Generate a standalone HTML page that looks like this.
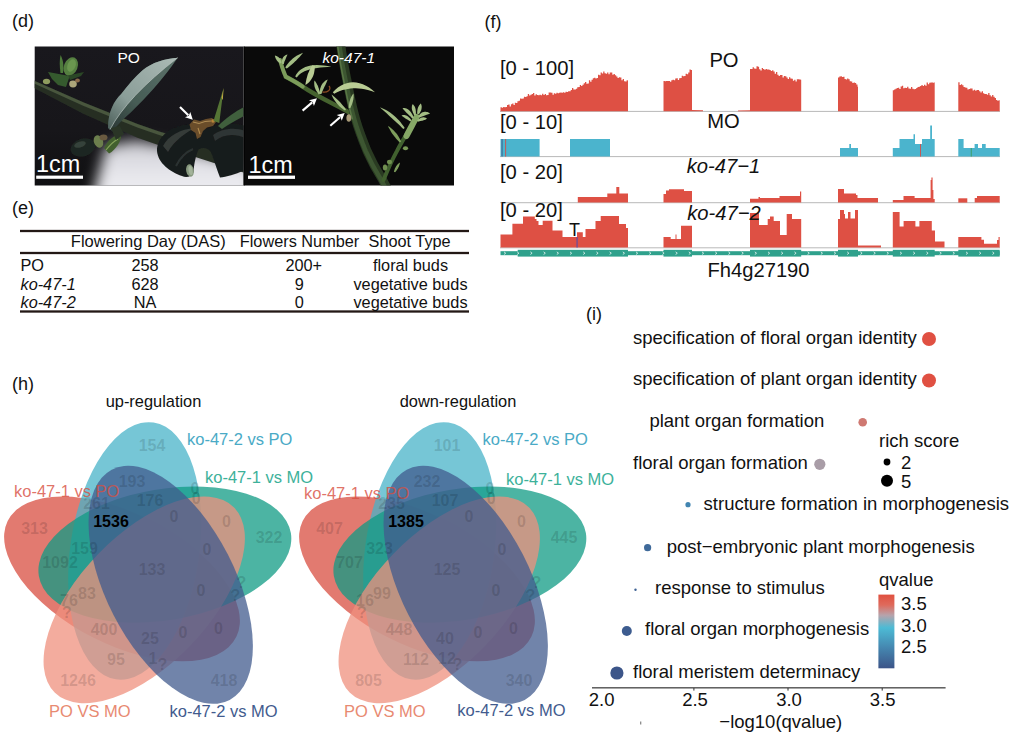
<!DOCTYPE html>
<html><head><meta charset="utf-8"><title>figure</title>
<style>
html,body{margin:0;padding:0;background:#fff;}
body{width:1024px;height:756px;overflow:hidden;}
svg{display:block;}
text{font-family:"Liberation Sans",sans-serif;}
</style></head><body>
<svg width="1024" height="756" viewBox="0 0 1024 756">
<defs>
<filter id="b1" x="-10%" y="-10%" width="120%" height="120%"><feGaussianBlur stdDeviation="0.7"/></filter>
<filter id="b2" x="-10%" y="-10%" width="120%" height="120%"><feGaussianBlur stdDeviation="1.5"/></filter>
<radialGradient id="glow" cx="150" cy="205" r="95" gradientUnits="userSpaceOnUse">
<stop offset="0" stop-color="#f4f4f8"/><stop offset="0.35" stop-color="#e6e6ec"/><stop offset="0.6" stop-color="#a9a9b0"/><stop offset="0.8" stop-color="#55555c"/><stop offset="1" stop-color="#1c1b21"/>
</radialGradient>
<linearGradient id="qv" x1="0" y1="0" x2="0" y2="1">
<stop offset="0" stop-color="#E0503F"/><stop offset="0.14" stop-color="#df6a5c"/><stop offset="0.28" stop-color="#b7a3ab"/><stop offset="0.45" stop-color="#4DBBD5"/><stop offset="0.72" stop-color="#4587b0"/><stop offset="1" stop-color="#3C5488"/>
</linearGradient>
<filter id="b5" x="-30%" y="-50%" width="160%" height="200%"><feGaussianBlur stdDeviation="7"/></filter>
<linearGradient id="bgL" x1="0" y1="46" x2="0" y2="186" gradientUnits="userSpaceOnUse"><stop offset="0" stop-color="#19181d"/><stop offset="0.6" stop-color="#17161a"/><stop offset="1" stop-color="#101012"/></linearGradient>
<linearGradient id="glowL" x1="0" y1="136" x2="0" y2="186" gradientUnits="userSpaceOnUse"><stop offset="0" stop-color="#b8b8be"/><stop offset="0.45" stop-color="#dcdce2"/><stop offset="1" stop-color="#ececf0"/></linearGradient>
<linearGradient id="leafG" x1="110" y1="128" x2="172" y2="60" gradientUnits="userSpaceOnUse"><stop offset="0" stop-color="#4f625d"/><stop offset="0.35" stop-color="#8a9d98"/><stop offset="1" stop-color="#a9b8b3"/></linearGradient>
<linearGradient id="leafD" x1="112" y1="130" x2="172" y2="62" gradientUnits="userSpaceOnUse"><stop offset="0" stop-color="#2c3a36"/><stop offset="0.4" stop-color="#465c55"/><stop offset="1" stop-color="#5a7068"/></linearGradient>
<clipPath id="cpL"><rect x="34.7" y="46.6" width="208.8" height="139"/></clipPath>
<clipPath id="cpR"><rect x="243.5" y="46.6" width="210.5" height="139"/></clipPath>
</defs>
<rect width="1024" height="756" fill="#fff"/>

<text x="12" y="26.6" font-size="18" fill="#111" text-anchor="start">(d)</text>
<text x="12" y="213.7" font-size="18" fill="#111" text-anchor="start">(e)</text>
<text x="484.5" y="28" font-size="18" fill="#111" text-anchor="start">(f)</text>
<text x="12" y="390.2" font-size="18" fill="#111" text-anchor="start">(h)</text>
<text x="586" y="320" font-size="18" fill="#111" text-anchor="start">(i)</text>
<g id="photoL" clip-path="url(#cpL)">
<rect x="34" y="46" width="210" height="140" fill="url(#bgL)"/>
<g filter="url(#b5)"><path d="M92,200 L106,146 L135,140 L170,146 L255,166 L255,200 Z" fill="url(#glowL)"/></g>
<g filter="url(#b1)">
<path d="M33,80 L83.7,102.3 L137.4,123.8 L159,131.3 L245,155 L245,173 L159,145.3 L137.4,137.8 L83.7,114.1 L33,87.5 Z" fill="#262e24"/>
<path d="M33,80.3 L83.7,102.6 L137.4,124.1 L159,131.6 L170,134.7 L170,138.5 L159,135 L137.4,127.5 L83.7,106 L33,83 Z" fill="#48563e"/>
<path d="M108,128 C108,112 114,101 121.2,94 C128,85 135,77 142.6,70.2 C152,62.5 165,58.5 177.7,57.7 C170,69 160,82 149.4,93.2 C141,102.5 133,110.5 124.4,118.2 C120,122 116,127 112.5,131.5 Z" fill="url(#leafD)"/>
<path d="M108,128 C108,112 114,101 121.2,94 C128,85 135,77 142.6,70.2 C152,62.5 165,58.5 177.7,57.7 Q127,97 110,129.5 Z" fill="url(#leafG)"/>
<path d="M110,129.5 Q127,97 177.7,57.7" stroke="#b4c0bb" stroke-width="0.7" fill="none"/>
<ellipse cx="70.8" cy="66.5" rx="6.8" ry="9.6" transform="rotate(22 70.8 66.5)" fill="#557f40"/>
<ellipse cx="71.5" cy="65.5" rx="4" ry="6.5" transform="rotate(22 71.5 65.5)" fill="#6a9650"/>
<path d="M60.5,55 C63.5,60 64,68 63,73 L60.5,73 C59.5,66 59.5,60 60.5,55 Z" fill="#4d7a3a"/>
<path d="M48,72 L69.7,76 L66,87 L58,85 L52,79 Z" fill="#365a2e"/>
<path d="M68,75.5 L84,72 L81,76 L70,80 Z" fill="#2c4726"/>
<ellipse cx="46.5" cy="81.5" rx="3.6" ry="2.8" fill="#8f9c5e"/>
<ellipse cx="73" cy="84" rx="3.8" ry="3.4" fill="#aba57a"/>
<ellipse cx="77.5" cy="80.5" rx="2.4" ry="2" fill="#8a6a4a"/>
<ellipse cx="83" cy="147.5" rx="12.6" ry="8.8" transform="rotate(-17 83 147.5)" fill="#1f2620"/>
<ellipse cx="80" cy="144.5" rx="6" ry="3" transform="rotate(-17 80 144.5)" fill="#36423a"/>
<ellipse cx="98.5" cy="141.5" rx="4.6" ry="6.4" transform="rotate(-20 98.5 141.5)" fill="#6c7f4e"/>
<path d="M104,148 C108,140 114,135 121,134 C122,140 116,150 109,153.5 Z" fill="#43602f"/>
<path d="M106,150 C110,145 114,141 118,139" stroke="#86a35a" stroke-width="1.2" fill="none"/>
<ellipse cx="103.5" cy="137.5" rx="4" ry="3" fill="#6a5a40"/>
<path d="M111,128 L120,126 L124,134 L116,140 Z" fill="#2a3626"/>
<path d="M157,151 C157,138 168,128 184,125 C194,123.5 204,125 208,129 C216,124 232,122 246,126 L246,170 L243,171 C236,174 226,177 220,177.5 C217,170 214,160 211,152 C208,148 203,147 199,149 C196,154 194,164 193.5,172 C192,177 186,178 182,176 C170,172 158,163 157,151 Z" fill="#181c1b"/>
<path d="M163,146 C168,136 180,129 195,128 C185,133 174,141 168,152 Z" fill="#343a39"/>
<path d="M213,135 C222,128 236,127 245,131 L245,138 C235,133 223,134 215,141 Z" fill="#2f3434"/>
<path d="M176,166 C180,158 186,152 193,149" stroke="#2c3231" stroke-width="2" fill="none"/>
<ellipse cx="190" cy="170.5" rx="3.8" ry="6.3" transform="rotate(-10 190 170.5)" fill="#86987e"/>
<ellipse cx="190.6" cy="170.5" rx="2" ry="4.6" transform="rotate(-10 190.6 170.5)" fill="#a3b39a"/>
<path d="M189.5,124.5 L194,119.5 L200,121 L206,119 L212,118 L216,122 L213,126 L207,127.5 L203,131 L200.5,137 L197,139 L195.5,133 L191,130 Z" fill="#6a4e2c"/>
<path d="M193,122 L199,123.5 L205,121.5 L211,121" stroke="#b08d55" stroke-width="1" fill="none"/>
<path d="M198,128 L200,134" stroke="#b08a4c" stroke-width="1.1" fill="none"/>
<circle cx="213" cy="121" r="1.8" fill="#b88438"/>
<path d="M213.5,121 L223.6,88 L219.3,123 Z" fill="#557536"/>
<path d="M221.6,98 L223.6,88 L222.8,100 Z" fill="#c2aa40"/>
<path d="M218,126 C226,118 236,111 244,107 L244,116 C236,120 228,125 222,129 Z" fill="#3f5f3c"/>
</g>
</g>
<g id="photoR" clip-path="url(#cpR)">
<rect x="243.5" y="46" width="211" height="140" fill="#0a0a0a"/>
<rect x="243.3" y="46" width="1.3" height="140" fill="#000"/>
<g filter="url(#b1)">
<path d="M351,113.5 C338,106 318,97 302.7,86.6 C296,82 290,79 285.8,76.7" stroke="#45622f" stroke-width="4.4" fill="none" stroke-linecap="round"/>
<path d="M302.7,86.6 C296,82 290,79 285.8,76.7 C283,71 281.5,65 280,60" stroke="#7c9c5a" stroke-width="4" fill="none" stroke-linecap="round"/>
<path d="M281.7,62.5 L281.4,61.8 L281.1,61.1 L280.8,60.4 L280.5,59.8 L280.1,59.2 L279.7,58.6 L279.3,58.1 L278.8,57.6 L278.3,57.1 L277.7,56.7 L277.1,56.3 L276.4,56.0 L275.7,55.7 L274.9,55.5 L274.9,55.5 L275.0,56.3 L275.2,57.0 L275.4,57.7 L275.7,58.4 L276.0,59.0 L276.3,59.6 L276.7,60.2 L277.1,60.7 L277.5,61.2 L278.0,61.7 L278.6,62.2 L279.1,62.6 L279.7,63.1 L280.3,63.5 Z" fill="#a3bd84"/>
<path d="M283.8,64.0 L284.0,63.2 L284.2,62.5 L284.4,61.8 L284.7,61.1 L285.0,60.5 L285.2,59.9 L285.5,59.3 L285.7,58.7 L286.0,58.0 L286.2,57.4 L286.5,56.7 L286.8,56.1 L287.2,55.3 L287.5,54.5 L287.5,54.5 L286.6,54.7 L285.8,55.0 L285.1,55.5 L284.4,56.0 L283.8,56.6 L283.2,57.3 L282.8,58.0 L282.4,58.8 L282.2,59.6 L282.0,60.4 L282.0,61.3 L282.0,62.2 L282.1,63.1 L282.2,64.0 Z" fill="#a3bd84"/>
<path d="M286.7,68.6 L287.9,67.7 L289.1,66.7 L290.3,65.7 L291.5,64.7 L292.7,63.7 L293.8,62.7 L295.0,61.6 L296.2,60.5 L297.3,59.3 L298.5,58.1 L299.6,56.9 L300.8,55.6 L301.9,54.3 L303.0,52.8 L303.0,52.8 L301.3,53.4 L299.7,54.2 L298.1,55.0 L296.6,55.8 L295.2,56.8 L293.8,57.8 L292.5,58.8 L291.3,59.9 L290.1,61.0 L289.0,62.3 L288.0,63.5 L287.0,64.8 L286.1,66.1 L285.3,67.4 Z" fill="#a3bd84"/>
<path d="M296.8,77.4 L298.0,75.9 L299.4,74.5 L301.0,73.3 L302.7,72.3 L304.5,71.3 L306.6,70.4 L308.9,69.7 L311.4,69.0 L314.1,68.4 L317.1,67.9 L320.3,67.5 L323.8,67.2 L327.5,67.0 L331.5,66.8 L331.5,66.8 L327.6,66.0 L323.8,65.5 L320.2,65.2 L316.9,65.1 L313.7,65.2 L310.7,65.6 L307.9,66.2 L305.3,67.1 L303.0,68.2 L300.9,69.5 L299.0,71.0 L297.5,72.7 L296.2,74.6 L295.2,76.6 Z" fill="#a3bd84"/>
<path d="M312.2,65.2 L311.5,66.6 L310.8,67.9 L310.1,69.2 L309.4,70.6 L308.8,71.9 L308.2,73.2 L307.7,74.6 L307.3,76.0 L306.9,77.4 L306.5,78.8 L306.2,80.3 L305.9,81.8 L305.6,83.3 L305.5,85.0 L305.5,85.0 L306.9,84.1 L308.2,83.0 L309.3,81.9 L310.3,80.7 L311.2,79.4 L312.1,78.1 L312.8,76.7 L313.4,75.2 L313.9,73.7 L314.2,72.2 L314.5,70.6 L314.7,69.0 L314.8,67.4 L314.8,65.8 Z" fill="#b9cc94"/>
<path d="M320.3,93.6 L320.0,92.5 L319.7,91.5 L319.4,90.4 L319.1,89.4 L318.8,88.4 L318.4,87.5 L318.1,86.5 L317.7,85.6 L317.2,84.7 L316.8,83.9 L316.3,83.0 L315.8,82.2 L315.2,81.3 L314.5,80.5 L314.5,80.5 L314.3,81.5 L314.2,82.6 L314.2,83.6 L314.3,84.6 L314.4,85.7 L314.6,86.7 L314.9,87.7 L315.3,88.7 L315.7,89.7 L316.2,90.7 L316.8,91.6 L317.4,92.5 L318.1,93.5 L318.7,94.4 Z" fill="#a3bd84"/>
<path d="M321.3,94.1 L321.8,92.9 L322.2,91.8 L322.7,90.7 L323.2,89.6 L323.7,88.6 L324.1,87.6 L324.6,86.6 L325.0,85.7 L325.5,84.7 L325.9,83.7 L326.4,82.7 L326.8,81.7 L327.3,80.6 L327.8,79.5 L327.8,79.5 L326.7,80.0 L325.6,80.6 L324.7,81.3 L323.8,82.2 L322.9,83.1 L322.2,84.1 L321.6,85.1 L321.0,86.2 L320.6,87.4 L320.2,88.6 L320.0,89.9 L319.8,91.2 L319.7,92.5 L319.7,93.9 Z" fill="#a3bd84"/>
<path d="M322.5,92 C327,93 332,89.5 329,86" stroke="#8a4a20" stroke-width="1.3" fill="none"/>
<path d="M340.6,44 C343,62 346,76 348.8,89.6 C351,101 353,110 355.7,119.4 C359,131 363,141 367.1,151.1 C372,162 377,171 382,178.9 L388,190" stroke="#2a3b23" stroke-width="9" fill="none"/>
<path d="M339.2,44 C341.6,62 344.6,76 347.4,89.6 C349.6,101 351.6,110 354.3,119.4 C357.6,131 361.6,141 365.7,151.1 C370.6,162 375.6,171 380.6,178.9 L386.6,190" stroke="#3d5730" stroke-width="4.5" fill="none"/>
<path d="M337.4,44 C339.8,62 342.8,76 345.6,89.6 C347.8,101 349.8,110 352.5,119.4" stroke="#587544" stroke-width="1.6" fill="none"/>
<path d="M334.2,93.8 L337.0,92.3 L339.9,91.0 L342.6,90.1 L345.3,89.4 L347.9,88.9 L350.5,88.5 L353.2,88.3 L355.9,88.3 L358.7,88.4 L361.6,88.8 L364.7,89.3 L367.9,90.1 L371.3,91.1 L375.0,92.3 L375.0,92.3 L372.1,89.7 L369.1,87.5 L366.0,85.7 L362.8,84.3 L359.6,83.2 L356.3,82.6 L353.1,82.3 L349.8,82.6 L346.7,83.2 L343.6,84.3 L340.7,85.7 L337.9,87.6 L335.3,89.7 L332.8,92.2 Z" fill="#b9cc94"/>
<path d="M346.0,109.4 L345.1,108.3 L344.2,107.1 L343.3,106.0 L342.4,104.9 L341.4,103.7 L340.4,102.6 L339.4,101.6 L338.4,100.5 L337.3,99.5 L336.2,98.4 L335.1,97.4 L334.0,96.4 L332.8,95.4 L331.5,94.5 L331.5,94.5 L332.1,96.0 L332.8,97.4 L333.5,98.7 L334.3,100.0 L335.2,101.3 L336.1,102.5 L337.1,103.7 L338.1,104.8 L339.1,105.9 L340.2,106.9 L341.4,107.9 L342.5,108.8 L343.7,109.7 L345.0,110.6 Z" fill="#a3bd84"/>
<path d="M350.3,108.2 L350.8,107.1 L351.2,106.0 L351.7,105.0 L352.1,103.9 L352.4,102.9 L352.8,101.8 L353.0,100.8 L353.3,99.8 L353.4,98.7 L353.6,97.7 L353.6,96.6 L353.7,95.6 L353.6,94.6 L353.5,93.5 L353.5,93.5 L352.8,94.3 L352.2,95.2 L351.7,96.1 L351.2,97.0 L350.7,97.9 L350.3,98.9 L350.0,100.0 L349.7,101.0 L349.4,102.1 L349.2,103.2 L349.1,104.3 L348.9,105.5 L348.8,106.6 L348.7,107.8 Z" fill="#a3bd84"/>
<ellipse cx="348.8" cy="118" rx="2.4" ry="3.8" fill="#a89a78"/>
<path d="M383.5,180 C388,169 392,160 396.9,151.1 C401,143 406,135 410.8,127.3" stroke="#41602f" stroke-width="4" fill="none" stroke-linecap="round"/>
<path d="M406.5,136 C410,129 413.5,123 416.5,117" stroke="#86a866" stroke-width="6" fill="none" stroke-linecap="round"/>
<path d="M413.8,117.5 L413.2,116.3 L412.6,115.1 L412.0,113.9 L411.4,112.9 L410.7,111.9 L409.9,111.0 L409.1,110.3 L408.2,109.6 L407.3,109.0 L406.4,108.6 L405.4,108.3 L404.4,108.1 L403.5,108.1 L402.5,108.3 L402.5,108.3 L403.1,109.0 L403.7,109.7 L404.3,110.3 L404.8,111.0 L405.4,111.6 L406.0,112.2 L406.7,112.9 L407.3,113.6 L408.1,114.3 L408.8,115.0 L409.6,115.8 L410.5,116.6 L411.3,117.5 L412.2,118.5 Z" fill="#a3bd84"/>
<path d="M415.9,114.8 L415.9,113.8 L415.9,112.8 L415.9,111.8 L415.8,110.9 L415.7,110.0 L415.6,109.2 L415.4,108.4 L415.2,107.7 L414.9,107.0 L414.5,106.3 L414.1,105.7 L413.7,105.2 L413.2,104.6 L412.6,104.2 L412.6,104.2 L412.2,104.9 L412.0,105.5 L411.9,106.2 L411.8,106.9 L411.8,107.7 L411.8,108.4 L411.9,109.2 L412.1,110.0 L412.3,110.8 L412.6,111.6 L412.9,112.5 L413.3,113.3 L413.7,114.3 L414.1,115.2 Z" fill="#a3bd84"/>
<path d="M418.9,114.3 L419.4,113.5 L419.9,112.7 L420.3,112.0 L420.7,111.2 L421.1,110.4 L421.3,109.7 L421.5,108.9 L421.6,108.1 L421.7,107.3 L421.7,106.6 L421.6,105.8 L421.4,105.1 L421.2,104.3 L420.8,103.6 L420.8,103.6 L420.2,104.1 L419.7,104.7 L419.2,105.3 L418.8,105.9 L418.5,106.5 L418.1,107.2 L417.9,107.9 L417.7,108.6 L417.5,109.4 L417.4,110.2 L417.3,111.0 L417.2,111.9 L417.2,112.8 L417.1,113.7 Z" fill="#a3bd84"/>
<path d="M419.7,117.7 L420.5,117.2 L421.3,116.8 L422.1,116.5 L422.8,116.2 L423.5,116.0 L424.1,115.7 L424.8,115.5 L425.4,115.3 L426.0,115.0 L426.7,114.8 L427.4,114.6 L428.2,114.3 L429.0,114.1 L430.0,113.8 L430.0,113.8 L429.3,113.1 L428.4,112.5 L427.5,112.1 L426.6,111.9 L425.7,111.7 L424.7,111.7 L423.7,111.9 L422.8,112.2 L421.9,112.6 L421.1,113.2 L420.3,113.8 L419.6,114.6 L418.9,115.4 L418.3,116.3 Z" fill="#a3bd84"/>
<path d="M417.9,121.7 L418.7,121.5 L419.5,121.3 L420.3,121.1 L421.0,121.0 L421.7,120.8 L422.4,120.7 L423.0,120.5 L423.6,120.3 L424.1,120.1 L424.7,119.9 L425.2,119.7 L425.8,119.4 L426.4,119.1 L427.0,118.8 L427.0,118.8 L426.5,118.3 L425.9,117.9 L425.2,117.6 L424.5,117.4 L423.8,117.3 L423.0,117.3 L422.3,117.4 L421.5,117.6 L420.7,117.9 L420.0,118.2 L419.3,118.7 L418.5,119.1 L417.8,119.7 L417.1,120.3 Z" fill="#a3bd84"/>
<path d="M411.5,120.5 L410.9,119.6 L410.3,118.8 L409.7,118.1 L409.0,117.4 L408.3,116.8 L407.6,116.3 L406.9,115.8 L406.1,115.5 L405.3,115.2 L404.5,115.1 L403.7,115.0 L403.0,115.0 L402.2,115.2 L401.5,115.5 L401.5,115.5 L402.1,116.0 L402.6,116.4 L403.2,116.8 L403.7,117.2 L404.2,117.6 L404.8,118.0 L405.4,118.4 L406.0,118.8 L406.7,119.2 L407.3,119.6 L408.1,120.0 L408.8,120.5 L409.6,121.0 L410.5,121.5 Z" fill="#a3bd84"/>
<path d="M404.7,128.0 L403.4,126.1 L402.0,124.2 L400.6,122.3 L399.1,120.6 L397.5,118.9 L395.8,117.2 L394.1,115.7 L392.3,114.2 L390.4,112.8 L388.5,111.5 L386.5,110.3 L384.4,109.2 L382.2,108.2 L380.0,107.3 L380.0,107.3 L381.7,109.0 L383.5,110.5 L385.2,112.1 L386.9,113.6 L388.6,115.2 L390.2,116.7 L391.9,118.2 L393.5,119.7 L395.2,121.2 L396.8,122.8 L398.5,124.3 L400.1,125.8 L401.7,127.4 L403.3,129.0 Z" fill="#a3bd84"/>
<path d="M401.2,141.5 L400.6,140.2 L399.9,139.0 L399.2,137.7 L398.5,136.5 L397.7,135.3 L396.9,134.1 L396.0,133.0 L395.0,131.9 L394.0,130.8 L392.9,129.7 L391.8,128.7 L390.6,127.8 L389.4,126.8 L388.0,126.0 L388.0,126.0 L388.6,127.5 L389.4,128.8 L390.1,130.1 L390.9,131.4 L391.6,132.7 L392.5,133.9 L393.3,135.0 L394.2,136.2 L395.1,137.3 L396.0,138.4 L396.9,139.4 L397.9,140.4 L398.8,141.5 L399.8,142.5 Z" fill="#7e9e5c"/>
<ellipse cx="405.5" cy="148.3" rx="2.6" ry="2" fill="#7a9a58"/>
<ellipse cx="389.5" cy="162" rx="2.6" ry="2.2" fill="#6f8f50"/>
<ellipse cx="385" cy="167.5" rx="2.2" ry="3" fill="#6f8f50"/>
<path d="M395.1,172.3 L395.6,171.7 L396.1,171.0 L396.6,170.4 L397.0,169.8 L397.5,169.1 L397.9,168.4 L398.2,167.8 L398.6,167.1 L398.9,166.4 L399.2,165.6 L399.4,164.9 L399.7,164.1 L399.9,163.3 L400.0,162.5 L400.0,162.5 L399.3,162.9 L398.6,163.5 L398.0,164.0 L397.5,164.6 L396.9,165.2 L396.5,165.8 L396.0,166.5 L395.6,167.2 L395.2,167.9 L394.9,168.6 L394.6,169.4 L394.4,170.1 L394.1,170.9 L393.9,171.7 Z" fill="#7e9e5c"/>
</g>
</g>
<text x="117.5" y="63" font-size="15.5" fill="#fff" text-anchor="start">PO</text>
<text x="322.5" y="63" font-size="15.5" fill="#fff" text-anchor="start" font-style="italic">ko-47-1</text>
<text x="36" y="172" font-size="23.4" fill="#fff" text-anchor="start">1cm</text>
<rect x="36.2" y="175.6" width="46.8" height="3.2" fill="#fff"/>
<text x="248.5" y="173" font-size="23.4" fill="#fff" text-anchor="start">1cm</text>
<rect x="248" y="175.6" width="47" height="3.3" fill="#fff"/>
<path d="M180.0,107.0 L188.3,115.3" stroke="#fff" stroke-width="2.1" fill="none"/>
<path d="M192.8,119.8 L185.0,117.3 L188.7,115.7 L190.3,112.0 Z" fill="#fff"/>
<path d="M302.6,110.6 L312.2,102.4" stroke="#fff" stroke-width="2.1" fill="none"/>
<path d="M317.0,98.3 L313.9,105.9 L312.6,102.1 L309.0,100.2 Z" fill="#fff"/>
<path d="M330.3,125.7 L340.0,117.2" stroke="#fff" stroke-width="2.1" fill="none"/>
<path d="M344.7,113.0 L341.7,120.7 L340.4,116.8 L336.7,115.0 Z" fill="#fff"/>
<rect x="20" y="229.85" width="449" height="2.3" fill="#231815"/>
<rect x="20" y="251.85" width="449" height="2.3" fill="#231815"/>
<rect x="20" y="310.35" width="449" height="2.3" fill="#231815"/>
<text x="70.8" y="247.3" font-size="16.5" fill="#111" text-anchor="start">Flowering Day (DAS)</text>
<text x="239.8" y="247.3" font-size="16.3" fill="#111" text-anchor="start">Flowers Number</text>
<text x="368.6" y="247.3" font-size="16.3" fill="#111" text-anchor="start">Shoot Type</text>
<text x="20.5" y="271.2" font-size="16.3" fill="#111" text-anchor="start">PO</text>
<text x="145" y="271.2" font-size="16.3" fill="#111" text-anchor="middle">258</text>
<text x="303.8" y="271.2" font-size="16.3" fill="#111" text-anchor="middle">200+</text>
<text x="410.5" y="271.2" font-size="16.3" fill="#111" text-anchor="middle">floral buds</text>
<text x="20.5" y="289.5" font-size="16.3" fill="#111" text-anchor="start" font-style="italic">ko-47-1</text>
<text x="145" y="289.5" font-size="16.3" fill="#111" text-anchor="middle">628</text>
<text x="299.3" y="289.5" font-size="16.3" fill="#111" text-anchor="middle">9</text>
<text x="410.5" y="289.5" font-size="16.3" fill="#111" text-anchor="middle">vegetative buds</text>
<text x="20.5" y="308.3" font-size="16.3" fill="#111" text-anchor="start" font-style="italic">ko-47-2</text>
<text x="145" y="308.3" font-size="16.3" fill="#111" text-anchor="middle">NA</text>
<text x="299.3" y="308.3" font-size="16.3" fill="#111" text-anchor="middle">0</text>
<text x="410.5" y="308.3" font-size="16.3" fill="#111" text-anchor="middle">vegetative buds</text>
<rect x="500" y="110.9" width="500" height="1" fill="#b9b9b9"/>
<rect x="500" y="156.1" width="500" height="1" fill="#b9b9b9"/>
<rect x="500" y="202.2" width="500" height="1" fill="#b9b9b9"/>
<rect x="500" y="247.3" width="500" height="1" fill="#b9b9b9"/>
<path d="M500.5,111.2 L500.5,107.3 L501.8,107.3 L501.8,107.8 L503.1,107.8 L503.1,106.9 L504.4,106.9 L504.4,107.3 L505.7,107.3 L505.7,107.0 L507.0,107.0 L507.0,105.0 L508.3,105.0 L508.3,104.6 L509.6,104.6 L509.6,106.6 L510.9,106.6 L510.9,104.3 L512.2,104.3 L512.2,103.5 L513.5,103.5 L513.5,104.9 L514.8,104.9 L514.8,102.7 L516.1,102.7 L516.1,103.0 L517.4,103.0 L517.4,101.3 L518.7,101.3 L518.7,100.8 L520.0,100.8 L520.0,98.4 L521.3,98.4 L521.3,98.7 L522.6,98.7 L522.6,98.4 L523.9,98.4 L523.9,96.7 L525.2,96.7 L525.2,96.9 L526.5,96.9 L526.5,96.2 L527.8,96.2 L527.8,94.0 L529.1,94.0 L529.1,95.6 L530.4,95.6 L530.4,94.7 L531.7,94.7 L531.7,93.9 L533.0,93.9 L533.0,93.1 L534.3,93.1 L534.3,95.4 L535.6,95.4 L535.6,94.2 L536.9,94.2 L536.9,94.9 L538.2,94.9 L538.2,95.3 L539.5,95.3 L539.5,94.8 L540.8,94.8 L540.8,95.3 L542.1,95.3 L542.1,93.8 L543.4,93.8 L543.4,94.9 L544.7,94.9 L544.7,93.9 L546.0,93.9 L546.0,95.2 L547.3,95.2 L547.3,94.9 L548.6,94.9 L548.6,92.6 L549.9,92.6 L549.9,92.6 L551.2,92.6 L551.2,92.8 L552.5,92.8 L552.5,94.8 L553.8,94.8 L553.8,93.2 L555.1,93.2 L555.1,93.7 L556.4,93.7 L556.4,92.7 L557.7,92.7 L557.7,93.2 L559.0,93.2 L559.0,92.7 L560.3,92.7 L560.3,92.5 L561.6,92.5 L561.6,92.7 L562.9,92.7 L562.9,92.3 L564.2,92.3 L564.2,92.8 L565.5,92.8 L565.5,91.7 L566.8,91.7 L566.8,92.0 L568.1,92.0 L568.1,91.3 L569.4,91.3 L569.4,91.3 L570.7,91.3 L570.7,89.9 L572.0,89.9 L572.0,88.0 L573.3,88.0 L573.3,89.6 L574.6,89.6 L574.6,89.5 L575.9,89.5 L575.9,88.7 L577.2,88.7 L577.2,87.2 L578.5,87.2 L578.5,87.0 L579.8,87.0 L579.8,84.9 L581.1,84.9 L581.1,86.1 L582.4,86.1 L582.4,84.8 L583.7,84.8 L583.7,83.3 L585.0,83.3 L585.0,82.1 L586.3,82.1 L586.3,83.7 L587.6,83.7 L587.6,83.5 L588.9,83.5 L588.9,80.3 L590.2,80.3 L590.2,81.7 L591.5,81.7 L591.5,79.8 L592.8,79.8 L592.8,78.3 L594.1,78.3 L594.1,77.8 L595.4,77.8 L595.4,78.4 L596.7,78.4 L596.7,77.9 L598.0,77.9 L598.0,74.7 L599.3,74.7 L599.3,75.3 L600.6,75.3 L600.6,72.6 L601.9,72.6 L601.9,73.5 L603.2,73.5 L603.2,71.5 L604.5,71.5 L604.5,73.3 L605.8,73.3 L605.8,73.8 L607.1,73.8 L607.1,72.6 L608.4,72.6 L608.4,74.2 L609.7,74.2 L609.7,72.4 L611.0,72.4 L611.0,72.4 L612.3,72.4 L612.3,74.7 L613.6,74.7 L613.6,73.9 L614.9,73.9 L614.9,75.2 L616.2,75.2 L616.2,76.6 L617.5,76.6 L617.5,78.0 L618.8,78.0 L618.8,77.3 L620.1,77.3 L620.1,77.4 L621.4,77.4 L621.4,80.2 L622.7,80.2 L622.7,79.0 L624.0,79.0 L624.0,81.3 L625.3,81.3 L625.3,81.5 L626.6,81.5 L626.6,80.3 L627.9,80.3 L627.9,80.9 L629.2,80.9 L628.0,80.9 L628.0,111.2 Z" fill="#DE5044"/>
<path d="M663.5,111.2 L663.5,81.1 L664.8,81.1 L664.8,81.3 L666.1,81.3 L666.1,81.1 L667.4,81.1 L667.4,80.9 L668.7,80.9 L668.7,80.9 L670.0,80.9 L670.0,81.8 L671.3,81.8 L671.3,80.2 L672.6,80.2 L672.6,79.7 L673.9,79.7 L673.9,80.2 L675.2,80.2 L675.2,78.4 L676.5,78.4 L676.5,78.3 L677.8,78.3 L677.8,79.9 L679.1,79.9 L679.1,78.3 L680.4,78.3 L680.4,77.9 L681.7,77.9 L681.7,75.8 L683.0,75.8 L683.0,76.3 L684.3,76.3 L684.3,76.1 L685.6,76.1 L685.6,73.8 L686.9,73.8 L686.9,74.2 L688.2,74.2 L688.2,72.6 L689.5,72.6 L689.5,69.4 L690.8,69.4 L690.8,70.0 L692.1,70.0 L692.0,70.0 L692.0,111.2 Z" fill="#DE5044"/>
<path d="M692,110 L703,110.3 L703,111.2 L692,111.2 Z" fill="#DE5044"/>
<path d="M738,110.6 L750,110.2 L750,111.2 L738,111.2 Z" fill="#DE5044"/>
<path d="M750.0,111.2 L750.0,68.9 L751.3,68.9 L751.3,69.0 L752.6,69.0 L752.6,67.2 L753.9,67.2 L753.9,68.4 L755.2,68.4 L755.2,68.7 L756.5,68.7 L756.5,66.3 L757.8,66.3 L757.8,66.7 L759.1,66.7 L759.1,69.2 L760.4,69.2 L760.4,70.4 L761.7,70.4 L761.7,68.0 L763.0,68.0 L763.0,69.0 L764.3,69.0 L764.3,69.7 L765.6,69.7 L765.6,69.0 L766.9,69.0 L766.9,69.4 L768.2,69.4 L768.2,69.5 L769.5,69.5 L769.5,70.0 L770.8,70.0 L770.8,71.1 L772.1,71.1 L772.1,70.3 L773.4,70.3 L773.4,71.5 L774.7,71.5 L774.7,73.8 L776.0,73.8 L776.0,71.9 L777.3,71.9 L777.3,74.8 L778.6,74.8 L778.6,76.1 L779.9,76.1 L779.9,74.9 L781.2,74.9 L781.2,75.1 L782.5,75.1 L782.5,77.6 L783.8,77.6 L783.8,76.0 L785.1,76.0 L785.1,76.2 L786.4,76.2 L786.4,77.6 L787.7,77.6 L787.7,79.0 L789.0,79.0 L789.0,77.2 L790.3,77.2 L790.3,78.4 L791.6,78.4 L791.6,78.7 L792.9,78.7 L792.9,80.8 L794.2,80.8 L794.2,79.7 L795.5,79.7 L795.5,81.5 L796.8,81.5 L796.8,79.3 L798.1,79.3 L798.1,79.3 L799.4,79.3 L799.4,79.6 L800.7,79.6 L800.7,79.7 L802.0,79.7 L801.2,79.7 L801.2,111.2 Z" fill="#DE5044"/>
<path d="M838.0,111.2 L838.0,77.4 L839.3,77.4 L839.3,76.6 L840.6,76.6 L840.6,76.2 L841.9,76.2 L841.9,77.1 L843.2,77.1 L843.2,76.7 L844.5,76.7 L844.5,78.9 L845.8,78.9 L845.8,79.5 L847.1,79.5 L847.1,78.4 L848.4,78.4 L848.4,79.2 L849.7,79.2 L849.7,81.2 L851.0,81.2 L851.0,81.6 L852.3,81.6 L852.3,82.9 L853.6,82.9 L853.6,82.6 L854.9,82.6 L854.9,83.0 L856.2,83.0 L856.2,84.5 L857.5,84.5 L857.5,86.8 L858.8,86.8 L858.0,86.8 L858.0,111.2 Z" fill="#DE5044"/>
<path d="M892.8,111.2 L892.8,90.3 L894.1,90.3 L894.1,89.5 L895.4,89.5 L895.4,88.7 L896.7,88.7 L896.7,88.1 L898.0,88.1 L898.0,87.8 L899.3,87.8 L899.3,89.0 L900.6,89.0 L900.6,86.5 L901.9,86.5 L901.9,85.8 L903.2,85.8 L903.2,88.2 L904.5,88.2 L904.5,87.7 L905.8,87.7 L905.8,88.1 L907.1,88.1 L907.1,86.7 L908.4,86.7 L908.4,88.5 L909.7,88.5 L909.7,88.7 L911.0,88.7 L911.0,86.9 L912.3,86.9 L912.3,88.7 L913.6,88.7 L913.6,89.2 L914.9,89.2 L914.9,88.9 L916.2,88.9 L916.2,88.1 L917.5,88.1 L917.5,87.0 L918.8,87.0 L918.8,86.7 L920.1,86.7 L920.1,85.9 L921.4,85.9 L921.4,85.0 L922.7,85.0 L922.7,86.1 L924.0,86.1 L924.0,84.7 L925.3,84.7 L925.3,85.7 L926.6,85.7 L926.6,82.6 L927.9,82.6 L927.9,84.2 L929.2,84.2 L929.2,82.8 L930.5,82.8 L930.5,82.5 L931.8,82.5 L931.8,82.4 L933.1,82.4 L933.1,82.7 L934.4,82.7 L934.4,82.1 L935.7,82.1 L934.7,82.1 L934.7,111.2 Z" fill="#DE5044"/>
<path d="M958.3,111.2 L958.3,82.2 L959.6,82.2 L959.6,84.9 L960.9,84.9 L960.9,84.2 L962.2,84.2 L962.2,85.3 L963.5,85.3 L963.5,87.0 L964.8,87.0 L964.8,87.4 L966.1,87.4 L966.1,87.8 L967.4,87.8 L967.4,89.5 L968.7,89.5 L968.7,88.9 L970.0,88.9 L970.0,88.5 L971.3,88.5 L971.3,88.5 L972.6,88.5 L972.6,90.4 L973.9,90.4 L973.9,89.7 L975.2,89.7 L975.2,90.8 L976.5,90.8 L976.5,90.1 L977.8,90.1 L977.8,90.1 L979.1,90.1 L979.1,91.3 L980.4,91.3 L980.4,92.4 L981.7,92.4 L981.7,91.2 L983.0,91.2 L983.0,93.2 L984.3,93.2 L984.3,93.9 L985.6,93.9 L985.6,94.1 L986.9,94.1 L986.9,94.7 L988.2,94.7 L988.2,93.1 L989.5,93.1 L989.5,95.3 L990.8,95.3 L990.8,96.4 L992.1,96.4 L992.1,94.9 L993.4,94.9 L993.4,96.8 L994.7,96.8 L994.7,98.1 L996.0,98.1 L996.0,100.1 L997.3,100.1 L997.3,100.7 L998.6,100.7 L998.6,100.3 L999.9,100.3 L999.7,100.3 L999.7,111.2 Z" fill="#DE5044"/>
<path d="M500.5,156.6 L500.5,139.0 L539.6,139.0 L539.6,156.6 L539.6,156.6 L539.6,156.6 Z" fill="#4BB4CD"/>
<path d="M570.0,156.6 L570.0,139.0 L610.0,139.0 L610.0,156.6 Z" fill="#4BB4CD"/>
<rect x="501.6" y="139" width="0.9" height="17.599999999999994" fill="#3C5488"/>
<rect x="505.2" y="139" width="0.9" height="17.599999999999994" fill="#d0504a"/>
<path d="M840.0,156.6 L840.0,148.0 L849.3,148.0 L849.3,144.0 L851.0,144.0 L851.0,148.0 L858.0,148.0 L858.0,156.6 Z" fill="#4BB4CD"/>
<path d="M892.8,156.6 L892.8,148.0 L899.5,148.0 L899.5,139.0 L913.5,139.0 L913.5,134.3 L915.0,134.3 L915.0,144.0 L922.0,144.0 L922.0,139.0 L930.2,139.0 L930.2,125.5 L932.0,125.5 L932.0,139.0 L934.7,139.0 L934.7,156.6 Z" fill="#4BB4CD"/>
<rect x="920" y="144" width="0.9" height="12.599999999999994" fill="#d0504a"/>
<path d="M958.3,156.6 L958.3,139.0 L963.6,139.0 L963.6,148.0 L974.6,148.0 L974.6,144.0 L978.0,144.0 L978.0,148.0 L982.0,148.0 L982.0,144.0 L985.7,144.0 L985.7,148.0 L999.7,148.0 L999.7,156.6 Z" fill="#4BB4CD"/>
<rect x="970.8" y="148" width="0.8" height="8.599999999999994" fill="#3a9a50"/>
<path d="M577.8,202.6 L577.8,197.0 L607.3,197.0 L607.3,193.5 L616.3,193.5 L616.3,187.0 L619.3,187.0 L619.3,193.5 L628.0,193.5 L628.0,202.6 Z" fill="#DE5044"/>
<path d="M663.5,202.6 L663.5,194.0 L666.0,194.0 L666.0,190.5 L669.0,190.5 L669.0,189.3 L684.0,189.3 L684.0,191.0 L692.0,191.0 L692.0,202.6 Z" fill="#DE5044"/>
<path d="M750.0,202.6 L750.0,198.8 L758.5,198.8 L758.5,197.0 L760.0,197.0 L760.0,198.0 L779.5,198.0 L779.5,196.0 L800.0,196.0 L800.0,191.4 L801.2,191.4 L801.2,202.6 Z" fill="#DE5044"/>
<path d="M838.0,202.6 L838.0,189.0 L844.0,189.0 L844.0,193.5 L856.0,193.5 L856.0,195.0 L857.5,195.0 L857.5,198.0 L878.0,198.0 L878.0,202.6 Z" fill="#DE5044"/>
<path d="M892.8,202.6 L892.8,200.0 L903.5,200.0 L903.5,196.0 L914.6,196.0 L914.6,198.0 L930.6,198.0 L930.6,180.0 L931.4,180.0 L931.4,177.5 L932.6,177.5 L932.6,190.0 L933.4,190.0 L933.4,199.0 L934.7,199.0 L934.7,202.6 Z" fill="#DE5044"/>
<path d="M958.3,202.6 L958.3,198.3 L967.3,198.3 L967.3,202.6 Z" fill="#DE5044"/>
<path d="M974.7,202.6 L974.7,198.0 L977.0,198.0 L977.0,196.0 L999.7,196.0 L999.7,202.6 Z" fill="#DE5044"/>
<path d="M500.5,247.6 L500.5,234.4 L512.4,234.4 L512.4,223.8 L523.0,223.8 L523.0,216.5 L534.8,216.5 L534.8,219.0 L536.5,219.0 L536.5,221.0 L538.5,221.0 L538.5,225.0 L542.7,225.0 L542.7,220.7 L552.5,220.7 L552.5,230.5 L562.5,230.5 L562.5,237.0 L577.0,237.0 L577.0,232.2 L582.8,232.2 L582.8,237.0 L585.5,237.0 L585.5,229.0 L595.5,229.0 L595.5,221.0 L600.7,221.0 L600.7,216.0 L619.0,216.0 L619.0,224.0 L626.0,224.0 L626.0,228.0 L628.0,228.0 L628.0,247.6 Z" fill="#DE5044"/>
<rect x="576.6" y="237" width="0.9" height="10.599999999999994" fill="#3b4cc0"/>
<path d="M663.5,247.6 L663.5,237.0 L670.7,237.0 L670.7,239.0 L675.5,239.0 L675.5,234.5 L676.5,234.5 L676.5,239.0 L681.0,239.0 L681.0,225.7 L692.0,225.7 L692.0,247.6 Z" fill="#DE5044"/>
<path d="M750.0,247.6 L750.0,213.0 L759.0,213.0 L759.0,225.0 L767.7,225.0 L767.7,219.0 L770.0,219.0 L770.0,216.4 L773.7,216.4 L773.7,221.0 L780.0,221.0 L780.0,235.0 L786.7,235.0 L786.7,214.0 L792.0,214.0 L792.0,219.0 L801.2,219.0 L801.2,247.6 Z" fill="#DE5044"/>
<path d="M838.0,247.6 L838.0,219.0 L840.0,219.0 L840.0,210.0 L844.0,210.0 L844.0,214.0 L845.0,214.0 L845.0,218.6 L848.0,218.6 L848.0,212.0 L850.5,212.0 L850.5,218.6 L853.0,218.6 L853.0,218.6 L855.0,218.6 L855.0,210.0 L858.0,210.0 L858.0,245.5 L881.0,245.5 L881.0,247.6 Z" fill="#DE5044"/>
<path d="M892.8,247.6 L892.8,212.0 L899.6,212.0 L899.6,226.5 L903.6,226.5 L903.6,221.0 L915.4,221.0 L915.4,226.5 L919.4,226.5 L919.4,221.0 L931.8,221.0 L931.8,230.5 L935.0,230.5 L935.0,241.5 L944.5,241.5 L944.5,247.6 Z" fill="#DE5044"/>
<path d="M958.3,247.6 L958.3,237.0 L981.4,237.0 L981.4,239.7 L984.0,239.7 L984.0,243.7 L997.0,243.7 L997.0,240.0 L998.5,240.0 L998.5,237.0 L999.7,237.0 L999.7,247.6 Z" fill="#DE5044"/>
<rect x="500.5" y="251.2" width="499.2" height="4" fill="#2FA18C"/>
<rect x="517.7" y="249.79999999999998" width="110.29999999999995" height="6.8" fill="#2FA18C"/>
<rect x="663.5" y="249.79999999999998" width="28.5" height="6.8" fill="#2FA18C"/>
<rect x="750" y="249.79999999999998" width="51.200000000000045" height="6.8" fill="#2FA18C"/>
<rect x="838" y="249.79999999999998" width="20" height="6.8" fill="#2FA18C"/>
<rect x="892.8" y="249.79999999999998" width="41.90000000000009" height="6.8" fill="#2FA18C"/>
<rect x="958.3" y="249.79999999999998" width="41.40000000000009" height="6.8" fill="#2FA18C"/>
<path d="M504.0,251.89999999999998 L505.7,253.2 L504.0,254.5" stroke="#fff" stroke-width="0.8" fill="none" opacity="0.9"/>
<path d="M517.2,251.89999999999998 L518.9,253.2 L517.2,254.5" stroke="#fff" stroke-width="0.8" fill="none" opacity="0.9"/>
<path d="M530.4,251.89999999999998 L532.1,253.2 L530.4,254.5" stroke="#fff" stroke-width="0.8" fill="none" opacity="0.9"/>
<path d="M543.6,251.89999999999998 L545.3,253.2 L543.6,254.5" stroke="#fff" stroke-width="0.8" fill="none" opacity="0.9"/>
<path d="M556.8,251.89999999999998 L558.5,253.2 L556.8,254.5" stroke="#fff" stroke-width="0.8" fill="none" opacity="0.9"/>
<path d="M570.0,251.89999999999998 L571.7,253.2 L570.0,254.5" stroke="#fff" stroke-width="0.8" fill="none" opacity="0.9"/>
<path d="M583.2,251.89999999999998 L584.9,253.2 L583.2,254.5" stroke="#fff" stroke-width="0.8" fill="none" opacity="0.9"/>
<path d="M596.4,251.89999999999998 L598.1,253.2 L596.4,254.5" stroke="#fff" stroke-width="0.8" fill="none" opacity="0.9"/>
<path d="M609.6,251.89999999999998 L611.3,253.2 L609.6,254.5" stroke="#fff" stroke-width="0.8" fill="none" opacity="0.9"/>
<path d="M622.8,251.89999999999998 L624.5,253.2 L622.8,254.5" stroke="#fff" stroke-width="0.8" fill="none" opacity="0.9"/>
<path d="M636.0,251.89999999999998 L637.7,253.2 L636.0,254.5" stroke="#fff" stroke-width="0.8" fill="none" opacity="0.9"/>
<path d="M649.2,251.89999999999998 L650.9,253.2 L649.2,254.5" stroke="#fff" stroke-width="0.8" fill="none" opacity="0.9"/>
<path d="M662.4,251.89999999999998 L664.1,253.2 L662.4,254.5" stroke="#fff" stroke-width="0.8" fill="none" opacity="0.9"/>
<path d="M675.6,251.89999999999998 L677.3,253.2 L675.6,254.5" stroke="#fff" stroke-width="0.8" fill="none" opacity="0.9"/>
<path d="M688.8,251.89999999999998 L690.5,253.2 L688.8,254.5" stroke="#fff" stroke-width="0.8" fill="none" opacity="0.9"/>
<path d="M702.0,251.89999999999998 L703.7,253.2 L702.0,254.5" stroke="#fff" stroke-width="0.8" fill="none" opacity="0.9"/>
<path d="M715.2,251.89999999999998 L716.9,253.2 L715.2,254.5" stroke="#fff" stroke-width="0.8" fill="none" opacity="0.9"/>
<path d="M728.4,251.89999999999998 L730.1,253.2 L728.4,254.5" stroke="#fff" stroke-width="0.8" fill="none" opacity="0.9"/>
<path d="M741.6,251.89999999999998 L743.3,253.2 L741.6,254.5" stroke="#fff" stroke-width="0.8" fill="none" opacity="0.9"/>
<path d="M754.8,251.89999999999998 L756.5,253.2 L754.8,254.5" stroke="#fff" stroke-width="0.8" fill="none" opacity="0.9"/>
<path d="M768.0,251.89999999999998 L769.7,253.2 L768.0,254.5" stroke="#fff" stroke-width="0.8" fill="none" opacity="0.9"/>
<path d="M781.2,251.89999999999998 L782.9,253.2 L781.2,254.5" stroke="#fff" stroke-width="0.8" fill="none" opacity="0.9"/>
<path d="M794.4,251.89999999999998 L796.1,253.2 L794.4,254.5" stroke="#fff" stroke-width="0.8" fill="none" opacity="0.9"/>
<path d="M807.6,251.89999999999998 L809.3,253.2 L807.6,254.5" stroke="#fff" stroke-width="0.8" fill="none" opacity="0.9"/>
<path d="M820.8,251.89999999999998 L822.5,253.2 L820.8,254.5" stroke="#fff" stroke-width="0.8" fill="none" opacity="0.9"/>
<path d="M834.0,251.89999999999998 L835.7,253.2 L834.0,254.5" stroke="#fff" stroke-width="0.8" fill="none" opacity="0.9"/>
<path d="M847.2,251.89999999999998 L848.9,253.2 L847.2,254.5" stroke="#fff" stroke-width="0.8" fill="none" opacity="0.9"/>
<path d="M860.4,251.89999999999998 L862.1,253.2 L860.4,254.5" stroke="#fff" stroke-width="0.8" fill="none" opacity="0.9"/>
<path d="M873.6,251.89999999999998 L875.3,253.2 L873.6,254.5" stroke="#fff" stroke-width="0.8" fill="none" opacity="0.9"/>
<path d="M886.8,251.89999999999998 L888.5,253.2 L886.8,254.5" stroke="#fff" stroke-width="0.8" fill="none" opacity="0.9"/>
<path d="M900.0,251.89999999999998 L901.7,253.2 L900.0,254.5" stroke="#fff" stroke-width="0.8" fill="none" opacity="0.9"/>
<path d="M913.2,251.89999999999998 L914.9,253.2 L913.2,254.5" stroke="#fff" stroke-width="0.8" fill="none" opacity="0.9"/>
<path d="M926.4,251.89999999999998 L928.1,253.2 L926.4,254.5" stroke="#fff" stroke-width="0.8" fill="none" opacity="0.9"/>
<path d="M939.6,251.89999999999998 L941.3,253.2 L939.6,254.5" stroke="#fff" stroke-width="0.8" fill="none" opacity="0.9"/>
<path d="M952.8,251.89999999999998 L954.5,253.2 L952.8,254.5" stroke="#fff" stroke-width="0.8" fill="none" opacity="0.9"/>
<path d="M966.0,251.89999999999998 L967.7,253.2 L966.0,254.5" stroke="#fff" stroke-width="0.8" fill="none" opacity="0.9"/>
<path d="M979.2,251.89999999999998 L980.9,253.2 L979.2,254.5" stroke="#fff" stroke-width="0.8" fill="none" opacity="0.9"/>
<path d="M992.4,251.89999999999998 L994.1,253.2 L992.4,254.5" stroke="#fff" stroke-width="0.8" fill="none" opacity="0.9"/>
<text x="500" y="75.2" font-size="20.2" fill="#111" text-anchor="start">[0 - 100]</text>
<text x="500" y="129.3" font-size="20.2" fill="#111" text-anchor="start">[0 - 10]</text>
<text x="500" y="179.3" font-size="20.2" fill="#111" text-anchor="start">[0 - 20]</text>
<text x="500" y="217" font-size="20.2" fill="#111" text-anchor="start">[0 - 20]</text>
<text x="724" y="67" font-size="20.2" fill="#111" text-anchor="middle">PO</text>
<text x="723.5" y="128.2" font-size="20.2" fill="#111" text-anchor="middle">MO</text>
<text x="723.5" y="172.8" font-size="20.2" fill="#111" text-anchor="middle" font-style="italic">ko-47−1</text>
<text x="724" y="219.7" font-size="20.2" fill="#111" text-anchor="middle" font-style="italic">ko-47−2</text>
<text x="758.5" y="277" font-size="20.2" fill="#111" text-anchor="middle">Fh4g27190</text>
<text x="574.6" y="235.6" font-size="18" fill="#111" text-anchor="middle">T</text>
<g transform="translate(147.3,573.8) scale(0.992,1.008) translate(-147.3,-573.8)">
<ellipse cx="121.8" cy="578.9" rx="128.8" ry="65.0" transform="rotate(-153.5 121.8 578.9)" fill="#D84E40" fill-opacity="0.75"/>
<ellipse cx="134.6" cy="551.1" rx="128.8" ry="65.0" transform="rotate(-81.5 134.6 551.1)" fill="#48B3C8" fill-opacity="0.75"/>
<ellipse cx="165.0" cy="554.7" rx="128.8" ry="65.0" transform="rotate(-9.5 165.0 554.7)" fill="#109B84" fill-opacity="0.75"/>
<ellipse cx="144.2" cy="599.6" rx="128.8" ry="65.0" transform="rotate(134.5 144.2 599.6)" fill="#EF907E" fill-opacity="0.75"/>
<ellipse cx="170.9" cy="584.7" rx="128.8" ry="65.0" transform="rotate(62.5 170.9 584.7)" fill="#425B8E" fill-opacity="0.75"/>
</g>
<text x="153.5" y="407" font-size="16.4" fill="#111" text-anchor="middle">up-regulation</text>
<text x="14" y="497" font-size="16.5" fill="#D84E40" text-anchor="start" fill-opacity="0.8">ko-47-1 vs PO</text>
<text x="187" y="444.5" font-size="16.5" fill="#4AAAC6" text-anchor="start">ko-47-2 vs PO</text>
<text x="205" y="483" font-size="16.5" fill="#3DB19A" text-anchor="start">ko-47-1 vs MO</text>
<text x="169.5" y="717" font-size="16.5" fill="#425B8E" text-anchor="start">ko-47-2 vs MO</text>
<text x="49" y="717" font-size="16.5" fill="#E88A72" text-anchor="start">PO VS MO</text>
<text x="152" y="451" font-size="16" fill="#000" text-anchor="middle" font-weight="bold" fill-opacity="0.14">154</text>
<text x="132" y="487" font-size="16" fill="#000" text-anchor="middle" font-weight="bold" fill-opacity="0.14">193</text>
<text x="96.5" y="508.5" font-size="16" fill="#000" text-anchor="middle" font-weight="bold" fill-opacity="0.14">261</text>
<text x="150" y="506" font-size="16" fill="#000" text-anchor="middle" font-weight="bold" fill-opacity="0.14">176</text>
<text x="174" y="521.5" font-size="16" fill="#000" text-anchor="middle" font-weight="bold" fill-opacity="0.14">0</text>
<text x="195" y="493.5" font-size="16" fill="#000" text-anchor="middle" font-weight="bold" fill-opacity="0.14">0</text>
<text x="196.2" y="504.3" font-size="16" fill="#000" text-anchor="middle" font-weight="bold" fill-opacity="0.14">0</text>
<text x="226.5" y="527" font-size="16" fill="#000" text-anchor="middle" font-weight="bold" fill-opacity="0.14">0</text>
<text x="34.5" y="534" font-size="16" fill="#000" text-anchor="middle" font-weight="bold" fill-opacity="0.14">313</text>
<text x="269" y="543" font-size="16" fill="#000" text-anchor="middle" font-weight="bold" fill-opacity="0.14">322</text>
<text x="84.5" y="554" font-size="16" fill="#000" text-anchor="middle" font-weight="bold" fill-opacity="0.14">159</text>
<text x="60" y="568" font-size="16" fill="#000" text-anchor="middle" font-weight="bold" fill-opacity="0.14">1092</text>
<text x="207" y="555" font-size="16" fill="#000" text-anchor="middle" font-weight="bold" fill-opacity="0.14">0</text>
<text x="152" y="574.5" font-size="16" fill="#000" text-anchor="middle" font-weight="bold" fill-opacity="0.14">133</text>
<text x="201" y="596" font-size="16" fill="#000" text-anchor="middle" font-weight="bold" fill-opacity="0.14">0</text>
<text x="241.5" y="587.5" font-size="16" fill="#000" text-anchor="middle" font-weight="bold" fill-opacity="0.14">?</text>
<text x="235.5" y="600.5" font-size="16" fill="#000" text-anchor="middle" font-weight="bold" fill-opacity="0.14">?</text>
<text x="69" y="606" font-size="16" fill="#000" text-anchor="middle" font-weight="bold" fill-opacity="0.14">76</text>
<text x="87" y="599" font-size="16" fill="#000" text-anchor="middle" font-weight="bold" fill-opacity="0.14">83</text>
<text x="67" y="618" font-size="16" fill="#000" text-anchor="middle" font-weight="bold" fill-opacity="0.14">?</text>
<text x="104" y="634.5" font-size="16" fill="#000" text-anchor="middle" font-weight="bold" fill-opacity="0.14">400</text>
<text x="150" y="643.5" font-size="16" fill="#000" text-anchor="middle" font-weight="bold" fill-opacity="0.14">25</text>
<text x="183" y="638" font-size="16" fill="#000" text-anchor="middle" font-weight="bold" fill-opacity="0.14">0</text>
<text x="218.5" y="634" font-size="16" fill="#000" text-anchor="middle" font-weight="bold" fill-opacity="0.14">0</text>
<text x="116" y="665" font-size="16" fill="#000" text-anchor="middle" font-weight="bold" fill-opacity="0.14">95</text>
<text x="153" y="664" font-size="16" fill="#000" text-anchor="middle" font-weight="bold" fill-opacity="0.14">1</text>
<text x="162.5" y="670" font-size="16" fill="#000" text-anchor="middle" font-weight="bold" fill-opacity="0.14">?</text>
<text x="78" y="686" font-size="16" fill="#000" text-anchor="middle" font-weight="bold" fill-opacity="0.14">1246</text>
<text x="224" y="686" font-size="16" fill="#000" text-anchor="middle" font-weight="bold" fill-opacity="0.14">418</text>
<text x="111" y="526.5" font-size="16" fill="#000" text-anchor="middle" font-weight="bold">1536</text>
<g transform="translate(442.3,573.8) scale(0.992,1.008) translate(-442.3,-573.8)">
<ellipse cx="416.8" cy="578.9" rx="128.8" ry="65.0" transform="rotate(-153.5 416.8 578.9)" fill="#D84E40" fill-opacity="0.75"/>
<ellipse cx="429.6" cy="551.1" rx="128.8" ry="65.0" transform="rotate(-81.5 429.6 551.1)" fill="#48B3C8" fill-opacity="0.75"/>
<ellipse cx="460.0" cy="554.7" rx="128.8" ry="65.0" transform="rotate(-9.5 460.0 554.7)" fill="#109B84" fill-opacity="0.75"/>
<ellipse cx="439.2" cy="599.6" rx="128.8" ry="65.0" transform="rotate(134.5 439.2 599.6)" fill="#EF907E" fill-opacity="0.75"/>
<ellipse cx="465.9" cy="584.7" rx="128.8" ry="65.0" transform="rotate(62.5 465.9 584.7)" fill="#425B8E" fill-opacity="0.75"/>
</g>
<text x="458" y="407" font-size="16.4" fill="#111" text-anchor="middle">down-regulation</text>
<text x="304" y="499" font-size="16.5" fill="#D84E40" text-anchor="start" fill-opacity="0.8">ko-47-1 vs PO</text>
<text x="482.5" y="444.5" font-size="16.5" fill="#4AAAC6" text-anchor="start">ko-47-2 vs PO</text>
<text x="506" y="484.5" font-size="16.5" fill="#3DB19A" text-anchor="start">ko-47-1 vs MO</text>
<text x="457.3" y="716.2" font-size="16.5" fill="#425B8E" text-anchor="start">ko-47-2 vs MO</text>
<text x="344" y="717" font-size="16.5" fill="#E88A72" text-anchor="start">PO VS MO</text>
<text x="447" y="451" font-size="16" fill="#000" text-anchor="middle" font-weight="bold" fill-opacity="0.14">101</text>
<text x="427" y="487" font-size="16" fill="#000" text-anchor="middle" font-weight="bold" fill-opacity="0.14">232</text>
<text x="391.5" y="508.5" font-size="16" fill="#000" text-anchor="middle" font-weight="bold" fill-opacity="0.14">235</text>
<text x="445" y="506" font-size="16" fill="#000" text-anchor="middle" font-weight="bold" fill-opacity="0.14">107</text>
<text x="469" y="521.5" font-size="16" fill="#000" text-anchor="middle" font-weight="bold" fill-opacity="0.14">0</text>
<text x="490" y="493.5" font-size="16" fill="#000" text-anchor="middle" font-weight="bold" fill-opacity="0.14">0</text>
<text x="491.2" y="504.3" font-size="16" fill="#000" text-anchor="middle" font-weight="bold" fill-opacity="0.14">0</text>
<text x="521.5" y="527" font-size="16" fill="#000" text-anchor="middle" font-weight="bold" fill-opacity="0.14">0</text>
<text x="329.5" y="534" font-size="16" fill="#000" text-anchor="middle" font-weight="bold" fill-opacity="0.14">407</text>
<text x="564" y="543" font-size="16" fill="#000" text-anchor="middle" font-weight="bold" fill-opacity="0.14">445</text>
<text x="379.5" y="554" font-size="16" fill="#000" text-anchor="middle" font-weight="bold" fill-opacity="0.14">323</text>
<text x="349.5" y="568" font-size="16" fill="#000" text-anchor="middle" font-weight="bold" fill-opacity="0.14">707</text>
<text x="502" y="555" font-size="16" fill="#000" text-anchor="middle" font-weight="bold" fill-opacity="0.14">0</text>
<text x="447" y="574.5" font-size="16" fill="#000" text-anchor="middle" font-weight="bold" fill-opacity="0.14">125</text>
<text x="496" y="596" font-size="16" fill="#000" text-anchor="middle" font-weight="bold" fill-opacity="0.14">0</text>
<text x="536.5" y="587.5" font-size="16" fill="#000" text-anchor="middle" font-weight="bold" fill-opacity="0.14">?</text>
<text x="530.5" y="600.5" font-size="16" fill="#000" text-anchor="middle" font-weight="bold" fill-opacity="0.14">?</text>
<text x="365" y="606" font-size="16" fill="#000" text-anchor="middle" font-weight="bold" fill-opacity="0.14">16</text>
<text x="382" y="599" font-size="16" fill="#000" text-anchor="middle" font-weight="bold" fill-opacity="0.14">99</text>
<text x="362" y="618" font-size="16" fill="#000" text-anchor="middle" font-weight="bold" fill-opacity="0.14">?</text>
<text x="399" y="634.5" font-size="16" fill="#000" text-anchor="middle" font-weight="bold" fill-opacity="0.14">448</text>
<text x="445" y="643.5" font-size="16" fill="#000" text-anchor="middle" font-weight="bold" fill-opacity="0.14">40</text>
<text x="478" y="638" font-size="16" fill="#000" text-anchor="middle" font-weight="bold" fill-opacity="0.14">0</text>
<text x="513.5" y="634" font-size="16" fill="#000" text-anchor="middle" font-weight="bold" fill-opacity="0.14">0</text>
<text x="416" y="665" font-size="16" fill="#000" text-anchor="middle" font-weight="bold" fill-opacity="0.14">112</text>
<text x="447" y="664" font-size="16" fill="#000" text-anchor="middle" font-weight="bold" fill-opacity="0.14">12</text>
<text x="457.5" y="670" font-size="16" fill="#000" text-anchor="middle" font-weight="bold" fill-opacity="0.14">?</text>
<text x="368.5" y="686" font-size="16" fill="#000" text-anchor="middle" font-weight="bold" fill-opacity="0.14">805</text>
<text x="519" y="686" font-size="16" fill="#000" text-anchor="middle" font-weight="bold" fill-opacity="0.14">340</text>
<text x="406" y="526.5" font-size="16" fill="#000" text-anchor="middle" font-weight="bold">1385</text>
<text x="633" y="343.7" font-size="18.5" fill="#111" text-anchor="start">specification of floral organ identity</text>
<circle cx="929" cy="339" r="7" fill="#e05042"/>
<text x="633" y="384.7" font-size="18.5" fill="#111" text-anchor="start">specification of plant organ identity</text>
<circle cx="929" cy="380.5" r="7" fill="#e05042"/>
<text x="649.4" y="426.5" font-size="18.5" fill="#111" text-anchor="start">plant organ formation</text>
<circle cx="862.7" cy="422.2" r="4.3" fill="#cf7972"/>
<text x="633" y="469" font-size="18.5" fill="#111" text-anchor="start">floral organ formation</text>
<circle cx="819.8" cy="464.3" r="5.6" fill="#a99da7"/>
<text x="703.6" y="509.5" font-size="18.5" fill="#111" text-anchor="start">structure formation in morphogenesis</text>
<circle cx="688" cy="504.7" r="2.6" fill="#4285b1"/>
<text x="666.7" y="553" font-size="18.5" fill="#111" text-anchor="start">post−embryonic plant morphogenesis</text>
<circle cx="647.6" cy="547.7" r="3.6" fill="#3f6a9a"/>
<text x="655" y="593.5" font-size="18.5" fill="#111" text-anchor="start">response to stimulus</text>
<circle cx="635.5" cy="589.8" r="1.2" fill="#3e6294"/>
<text x="645" y="634.5" font-size="18.5" fill="#111" text-anchor="start">floral organ morphogenesis</text>
<circle cx="626.8" cy="631" r="5" fill="#3d5c8f"/>
<text x="633" y="677.5" font-size="18.5" fill="#111" text-anchor="start">floral meristem determinacy</text>
<circle cx="616.9" cy="673" r="6.6" fill="#3c5589"/>
<text x="879" y="446.5" font-size="18.5" fill="#111" text-anchor="start">rich score</text>
<circle cx="887" cy="462" r="3.4" fill="#000"/>
<circle cx="887" cy="480.8" r="6" fill="#000"/>
<text x="901" y="468.5" font-size="18.5" fill="#111" text-anchor="start">2</text>
<text x="901" y="487.5" font-size="18.5" fill="#111" text-anchor="start">5</text>
<text x="879" y="585.5" font-size="18.5" fill="#111" text-anchor="start">qvalue</text>
<rect x="878.4" y="594.6" width="16" height="73.7" fill="url(#qv)"/>
<text x="901" y="609.5" font-size="18.5" fill="#111" text-anchor="start">3.5</text>
<text x="901" y="631.5" font-size="18.5" fill="#111" text-anchor="start">3.0</text>
<text x="901" y="653" font-size="18.5" fill="#111" text-anchor="start">2.5</text>
<rect x="592" y="687.3" width="353.6" height="1.1" fill="#222"/>
<text x="601.7" y="706" font-size="18.5" fill="#111" text-anchor="middle">2.0</text>
<text x="695" y="706" font-size="18.5" fill="#111" text-anchor="middle">2.5</text>
<text x="789" y="706" font-size="18.5" fill="#111" text-anchor="middle">3.0</text>
<text x="882.7" y="706" font-size="18.5" fill="#111" text-anchor="middle">3.5</text>
<text x="780.8" y="727.5" font-size="18.5" fill="#111" text-anchor="middle">−log10(qvalue)</text>
<rect x="640.4" y="721.5" width="0.8" height="3" fill="#444"/>
<rect x="693.4" y="688" width="1" height="2.6" fill="#333"/>
<rect x="787.5" y="688" width="1" height="2.6" fill="#333"/>
<rect x="881.7" y="688" width="1" height="2.6" fill="#333"/>
</svg></body></html>
